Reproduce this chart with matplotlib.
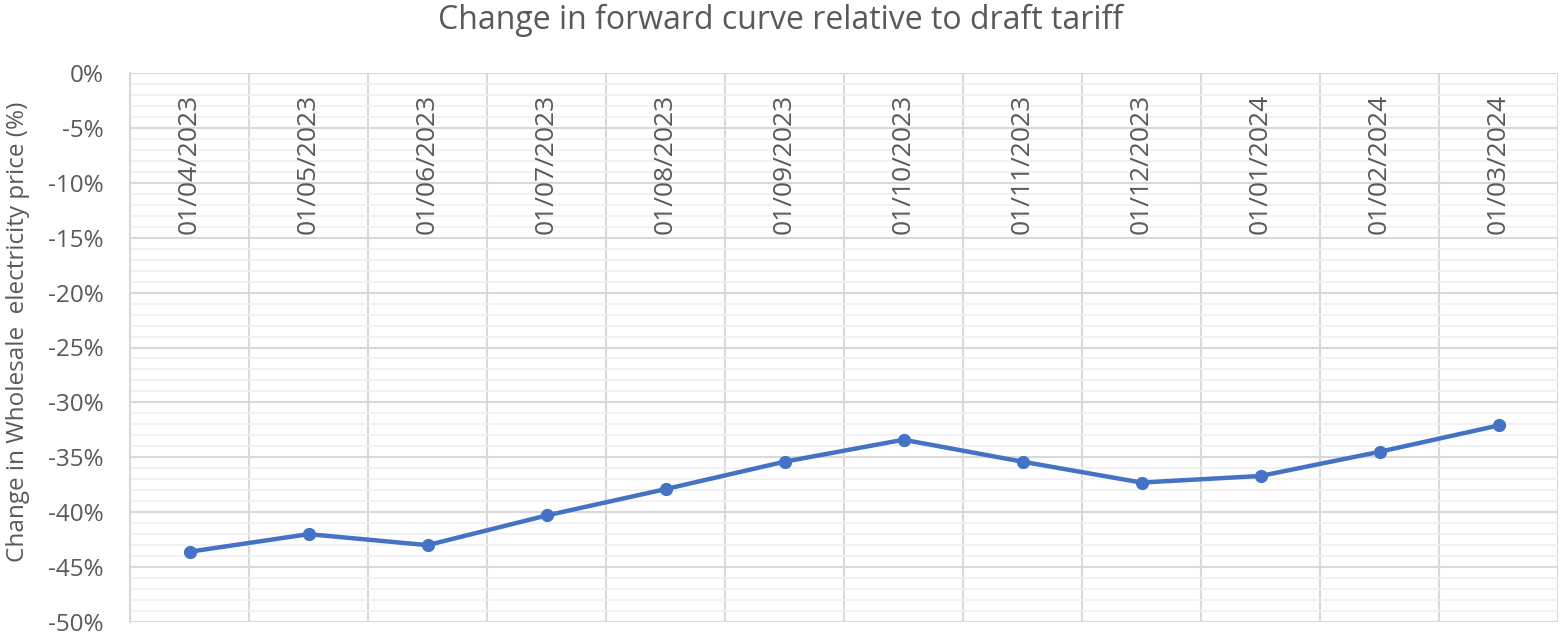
import matplotlib
matplotlib.use("Agg")
import matplotlib.pyplot as plt
from matplotlib.ticker import MultipleLocator, FuncFormatter

dates = ["01/04/2023", "01/05/2023", "01/06/2023", "01/07/2023", "01/08/2023", "01/09/2023",
         "01/10/2023", "01/11/2023", "01/12/2023", "01/01/2024", "01/02/2024", "01/03/2024"]
change_pct = [-43.6, -42.0, -43.0, -40.3, -37.9, -35.4, -33.4, -35.4, -37.3, -36.7, -34.5, -32.1]

title = "Change in forward curve relative to draft tariff"
ylabel = "Change in Wholesale  electricity price (%)"

plt.rcParams['font.family'] = ['Open Sans', 'DejaVu Sans']
txt = '#595959'

fig = plt.figure(figsize=(15.6, 6.36), dpi=100)
ax = fig.add_axes([130/1560, 1 - 622/636, 1428/1560, 549/636])

n = len(dates)
x = list(range(n))
ax.set_xlim(-0.5, n - 0.5)
ax.set_ylim(-50, 0)

ax.yaxis.set_major_locator(MultipleLocator(5))
ax.yaxis.set_minor_locator(MultipleLocator(1))
ax.yaxis.set_major_formatter(FuncFormatter(lambda v, p: f"{int(round(v))}%"))
ax.grid(axis='y', which='major', color='#d9d9d9', linewidth=1.5)
ax.grid(axis='y', which='minor', color='#f0f0f0', linewidth=1.2)
ax.set_xticks([i + 0.5 for i in range(-1, n)])
ax.grid(axis='x', which='major', color='#d9d9d9', linewidth=1.5)
ax.set_axisbelow(True)
ax.tick_params(axis='x', length=0, labelbottom=False)
ax.tick_params(axis='y', which='both', length=0, labelsize=17.5, labelcolor=txt, pad=19)

for s in ['right', 'bottom', 'top']:
    ax.spines[s].set_visible(False)
ax.spines['left'].set_color('#d9d9d9')
ax.spines['left'].set_linewidth(1.5)
ax.axhline(0, color='#d9d9d9', linewidth=1.5, zorder=1)
ax.axhline(-50, color='#d9d9d9', linewidth=1.5, zorder=1)

for i, d in enumerate(dates):
    ax.text(i, -1.9, d, rotation=90, ha='center', va='top', fontsize=19, color=txt)

ax.plot(x, change_pct, color='#4472C4', linewidth=3.2, marker='o', markersize=8.5, zorder=3)

fig.text(0.5, 1 - 20/636, title, ha='center', va='center', fontsize=23, color=txt)
fig.text(18/1560, 1 - 332/636, ylabel, rotation=90, ha='center', va='center', fontsize=17.5, color=txt)

fig.savefig("out.png", dpi=100)
